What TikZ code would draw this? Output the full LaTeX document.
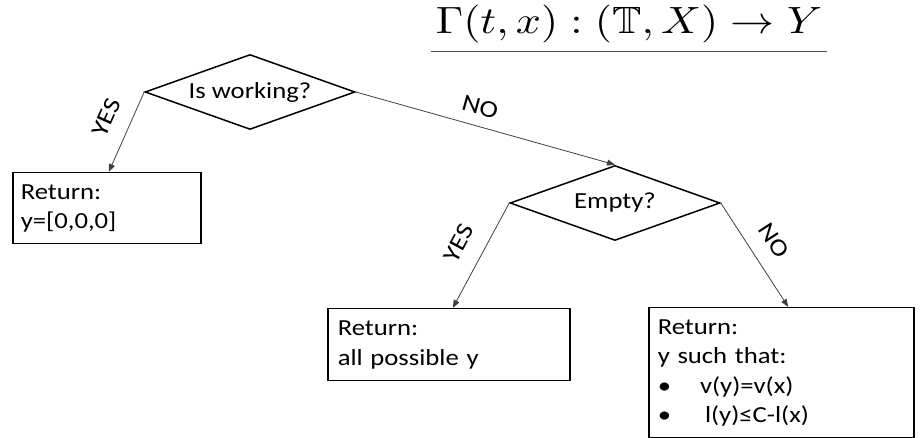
\documentclass[tikz,border=0pt]{standalone}
\usepackage{amssymb}
\usepackage{graphicx}
\usepackage[no-math]{fontspec}
\newfontfamily\calfont{Carlito}[FakeStretch=1.16]
\usetikzlibrary{shapes.geometric, arrows.meta, positioning}

\begin{document}
\begin{tikzpicture}[
        x=1pt, y=1pt,
        decision/.style={diamond, draw, line width=1.5pt, minimum width=210pt, minimum height=75pt, aspect=2.8, inner sep=0pt, font=\calfont\fontsize{23}{28}\selectfont},
        retbox/.style={rectangle, draw, line width=1.5pt, anchor=north west, inner xsep=8pt, inner ysep=0pt, align=left, font=\calfont\fontsize{23}{29.5}\selectfont},
        arrow/.style={-{Triangle[length=8pt,width=6pt]}, line width=0.8pt, black!75},
        lbl/.style={sloped, above, inner xsep=0pt, inner ysep=16pt, text=black, font=\calfont\fontsize{24}{24}\selectfont}
    ]
        \useasboundingbox (0,0) rectangle (920,438);

        % Title
        \node[anchor=base, inner xsep=5pt, inner ysep=0pt] (title) at (629,404) {\scalebox{4.408}[3.8]{$\Gamma(t,x) : (\mathbb{T},X) \to Y$}};
        \draw[line width=1.2pt, black!70] ([yshift=-7.5pt]title.south west) -- ([yshift=-7.5pt]title.south east);

        % Decisions
        \node[decision] (working) at (250,346) {Is working?};
        \node[decision] (empty) at (615,235) {Empty?};

        % Results
        \node[retbox, minimum width=188pt, minimum height=71pt, text width=172pt] (zero) at (12,266) {Return:\\y=[0,0,0]};
        \node[retbox, minimum width=242pt, minimum height=72pt, text width=222pt, inner xsep=10pt] (all) at (327,130) {Return:\\all possible y};
        \node[retbox, minimum width=265pt, minimum height=130pt, text width=247pt, inner xsep=9pt] (such) at (648,131) {Return:\\y such that:\\•\hspace{29pt}v(y)=v(x)\\•\hspace{34pt}l(y)≤C-l(x)};

        % Arrows
        \draw[arrow] (working.west) -- node[lbl, pos=0.44] {YES} ([xshift=2pt]zero.north);
        \draw[arrow] (working.east) -- node[lbl, pos=0.46, inner ysep=11pt] {NO} (empty.north);
        \draw[arrow] (empty.west) -- node[lbl, pos=0.5, inner ysep=17pt] {YES} ([xshift=4pt]all.north);
        \draw[arrow] (empty.east) -- node[lbl, pos=0.49] {NO} ([xshift=7pt]such.north);
    \end{tikzpicture}
\end{document}
